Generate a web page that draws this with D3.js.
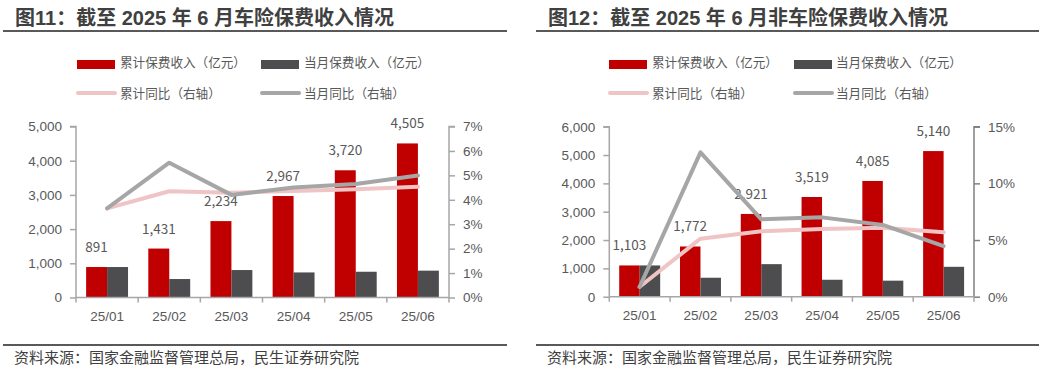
<!DOCTYPE html>
<html><head><meta charset="utf-8">
<script src="https://cdn.jsdelivr.net/npm/d3@7"></script>
<style>
html,body{margin:0;padding:0;background:#fff;}
svg{display:block;font-family:"Noto Sans CJK SC","Noto Sans",sans-serif;}
.title{font-family:"Liberation Sans","Noto Sans CJK SC",sans-serif;}
</style></head>
<body><svg id="c" width="1039" height="366"></svg>
<script>
// ---- data ----
const categories = ["25/01","25/02","25/03","25/04","25/05","25/06"];
const autoCum = [891,1431,2234,2967,3720,4505];
const autoMonth = [891,540,803,733,753,785];
const autoCumYoY = [3.65,4.35,4.29,4.36,4.43,4.53];
const autoMonthYoY = [3.65,5.52,4.20,4.50,4.65,4.99];
const nonAutoCum = [1103,1772,2921,3519,4085,5140];
const nonAutoMonth = [1103,669,1149,598,566,1055];
const nonAutoCumYoY = [0.88,5.12,5.77,5.97,6.09,5.68];
const nonAutoMonthYoY = [0.88,12.74,6.83,7.00,6.33,4.47];
const autoLeftTicks = [0,1000,2000,3000,4000,5000];
const autoRightTicks = [0,1,2,3,4,5,6,7];
const nonAutoLeftTicks = [0,1000,2000,3000,4000,5000,6000];
const nonAutoRightTicks = [0,5,10,15];
const legendNames = ["累计保费收入（亿元）","当月保费收入（亿元）","累计同比（右轴）","当月同比（右轴）"];
const titles = ["图11：截至 2025 年 6 月车险保费收入情况","图12：截至 2025 年 6 月非车险保费收入情况"];
const sourceText = "资料来源：国家金融监督管理总局，民生证券研究院";

const RED="#c00000", DARK="#4d4d4f", PINK="#f0c4c4", GREY="#a6a6a6", TXT="#595959";
const svg = d3.select("#c");

function drawChart(cfg){
  const g = svg.append("g");
  // title
  g.append("text").attr("class","title").attr("x",cfg.titleX).attr("y",24.5).attr("font-size",20).attr("font-weight","bold")
    .attr("fill","#404040").text(cfg.title);
  g.append("rect").attr("x",cfg.ruleX0).attr("y",30).attr("width",cfg.ruleX1-cfg.ruleX0).attr("height",2).attr("fill","#595959");
  // footer
  g.append("rect").attr("x",cfg.ruleX0).attr("y",344).attr("width",cfg.ruleX1-cfg.ruleX0).attr("height",2).attr("fill","#595959");
  g.append("text").attr("x",cfg.footX).attr("y",363).attr("font-size",15).attr("fill","#404040").text(sourceText);
  // legend
  const L = cfg.legend;
  const lg = g.append("g").attr("font-size",12.6).attr("fill",TXT);
  lg.append("rect").attr("x",L.s1).attr("y",60).attr("width",38).attr("height",9).attr("fill",RED);
  lg.append("text").attr("x",L.t1).attr("y",67).text(legendNames[0]);
  lg.append("rect").attr("x",L.s2).attr("y",60).attr("width",38).attr("height",9).attr("fill",DARK);
  lg.append("text").attr("x",L.t2).attr("y",67).text(legendNames[1]);
  lg.append("line").attr("x1",L.s1+1).attr("x2",L.s1+38).attr("y1",93).attr("y2",93).attr("stroke",PINK).attr("stroke-width",4).attr("stroke-linecap","round");
  lg.append("text").attr("x",L.t1).attr("y",98).text(legendNames[2]);
  lg.append("line").attr("x1",L.s2+1).attr("x2",L.s2+38).attr("y1",93).attr("y2",93).attr("stroke",GREY).attr("stroke-width",4).attr("stroke-linecap","round");
  lg.append("text").attr("x",L.t2).attr("y",98).text(legendNames[3]);

  const x = d3.scaleBand().domain(categories).range([cfg.x0,cfg.x1]).paddingInner(0).paddingOuter(0);
  const yL = d3.scaleLinear().domain([0,cfg.leftTicks[cfg.leftTicks.length-1]]).range([cfg.yBottom,cfg.yTop]);
  const yR = d3.scaleLinear().domain([0,cfg.rightTicks[cfg.rightTicks.length-1]]).range([cfg.yBottom,cfg.yTop]);
  const bw = x.bandwidth()*0.337;
  const cx = c => x(c)+x.bandwidth()/2;

  // bars
  g.append("g").selectAll("rect").data(categories).join("rect")
    .attr("x",c=>cx(c)-bw).attr("width",bw)
    .attr("y",(c,i)=>yL(cfg.cum[i])).attr("height",(c,i)=>yL(0)-yL(cfg.cum[i])).attr("fill",RED);
  g.append("g").selectAll("rect").data(categories).join("rect")
    .attr("x",c=>cx(c)).attr("width",bw)
    .attr("y",(c,i)=>yL(cfg.month[i])).attr("height",(c,i)=>yL(0)-yL(cfg.month[i])).attr("fill",DARK);
  // labels
  g.append("g").selectAll("text").data(categories).join("text")
    .attr("x",c=>cx(c)-bw/2).attr("y",(c,i)=>yL(cfg.cum[i])-15)
    .attr("text-anchor","middle").attr("font-size",13.5).attr("fill",TXT)
    .text((c,i)=>d3.format(",")(cfg.cum[i]));

  // axes
  const axL = g.append("g").attr("transform",`translate(${cfg.x0},0)`)
    .call(d3.axisLeft(yL).tickValues(cfg.leftTicks).tickSize(6).tickPadding(8).tickFormat(d3.format(",")));
  const axR = g.append("g").attr("transform",`translate(${cfg.x1},0)`)
    .call(d3.axisRight(yR).tickValues(cfg.rightTicks).tickSize(6).tickPadding(8).tickFormat(d=>d+"%"));
  const axB = g.append("g").attr("transform",`translate(0,${cfg.yBottom})`)
    .call(d3.axisBottom(x).tickSize(0).tickPadding(13.5));
  [axL,axR,axB].forEach(a=>{
    a.selectAll("path").attr("stroke",cfg.axisColor).attr("stroke-width",1.5);
    a.selectAll("line").attr("stroke",cfg.axisColor).attr("stroke-width",1.5);
    a.selectAll("text").attr("font-size",13.5).attr("fill",TXT).attr("font-family",null);
  });
  axR.select("path").attr("stroke",cfg.rightAxisColor);
  axR.selectAll("line").attr("stroke",cfg.rightAxisColor);
  axL.select("path").attr("d",`M-6,${cfg.yTop}H0V${cfg.yBottom}`);
  axR.select("path").attr("d",`M6,${cfg.yTop}H0V${cfg.yBottom}`);
  axB.select("path").attr("d",`M${cfg.x0},0H${cfg.x1}`);
  // category boundary ticks
  const bounds = categories.map(c=>x(c)).concat([cfg.x1]);
  g.append("g").selectAll("line").data(bounds).join("line")
    .attr("x1",d=>d).attr("x2",d=>d).attr("y1",cfg.yBottom).attr("y2",cfg.yBottom+5)
    .attr("stroke",cfg.axisColor).attr("stroke-width",1.5);

  // lines
  const line = d3.line().x((d,i)=>cx(categories[i])).y(d=>yR(d));
  g.append("path").attr("d",line(cfg.cumYoY)).attr("fill","none").attr("stroke",PINK).attr("stroke-width",4).attr("stroke-linejoin","round").attr("stroke-linecap","round");
  g.append("path").attr("d",line(cfg.monthYoY)).attr("fill","none").attr("stroke",GREY).attr("stroke-width",4).attr("stroke-linejoin","round").attr("stroke-linecap","round");
}

drawChart({title:titles[0],titleX:15,ruleX0:3,ruleX1:507,footX:14,
  legend:{s1:77,t1:120,s2:261,t2:304},
  x0:76,x1:449,yTop:126.5,yBottom:297.5,
  leftTicks:autoLeftTicks,rightTicks:autoRightTicks,
  cum:autoCum,month:autoMonth,cumYoY:autoCumYoY,monthYoY:autoMonthYoY,
  axisColor:"#a6a6a6",rightAxisColor:"#a6a6a6"});
drawChart({title:titles[1],titleX:548,ruleX0:536,ruleX1:1039,footX:547,
  legend:{s1:609,t1:652,s2:794,t2:836},
  x0:609.3,x1:974,yTop:126.7,yBottom:296.7,
  leftTicks:nonAutoLeftTicks,rightTicks:nonAutoRightTicks,
  cum:nonAutoCum,month:nonAutoMonth,cumYoY:nonAutoCumYoY,monthYoY:nonAutoMonthYoY,
  axisColor:"#a6a6a6",rightAxisColor:"#808080"});
</script></body></html>
